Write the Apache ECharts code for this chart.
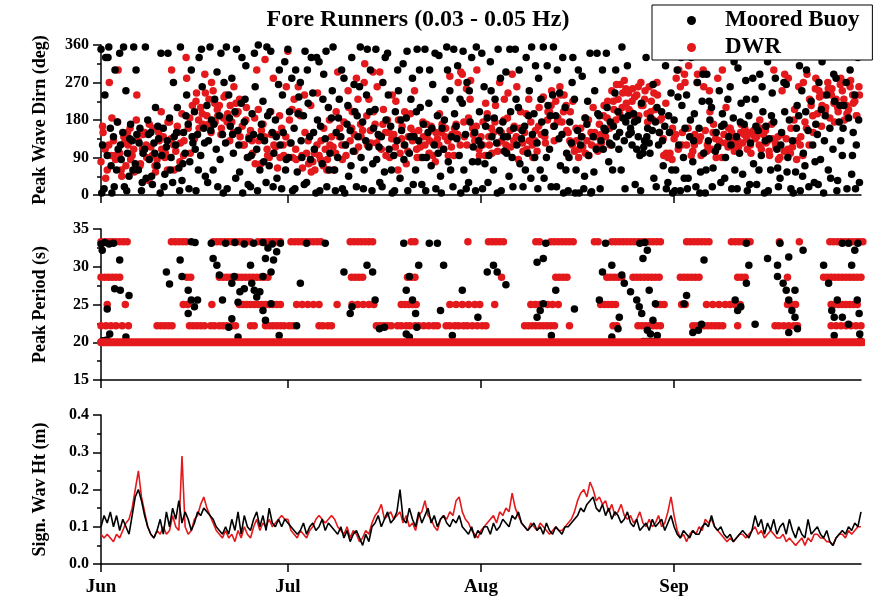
<!DOCTYPE html>
<html>
<head>
<meta charset="utf-8">
<script src="https://cdn.jsdelivr.net/npm/echarts@6/dist/echarts.min.js"></script>
<style>html,body{margin:0;padding:0;background:#fff}#c{width:884px;height:603px}</style>
</head>
<body>
<div id="c"></div>
<script>
// ---- axis / tick data ----
const monthStarts = [0, 30, 61, 92];            // days since Jun 1
const monthLabels = ['Jun', 'Jul', 'Aug', 'Sep'];
const dayMax = 122;                             // Oct 1
const titleText = 'Fore Runners (0.03 - 0.05 Hz)';

// ---- Panel 1: peak wave direction (deg) ----
const dirBuoyStep = 0.25; // days between samples
const dirBuoy = [
350,120,15,330, 95,355,160,5, 140,300,60,110, 340,85,150,20, 250,100,45,170,
130,355,75,145, 60,160,10,100, 110,40,180,85, 150,25,125,210, 70,135,5,95,
160,50,115,340, 185,90,30,140, 120,210,65,355, 35,150,100,240, 170,80,300,125,
200,10,145,330, 95,260,160,45, 215,130,355,180, 60,230,110,20, 190,340,145,270,
125,15,240,165, 280,100,200,350, 155,55,220,5, 175,310,90,135, 20,195,145,260,
110,360,60,170, 225,130,30,190, 70,345,150,100, 180,40,265,120, 15,150,320,85,
350,200,125,10, 160,300,55,235, 270,90,190,345, 30,220,140,330, 245,110,5,180,
320,165,75,290, 135,20,210,100, 185,355,60,150, 90,230,140,15, 280,120,170,45,
155,330,105,200, 20,140,260,90, 175,60,130,350, 115,300,10,160, 205,85,145,30,
140,270,55,180, 340,110,165,5, 95,200,130,250, 40,155,315,120, 185,10,100,230,
280,140,60,350, 130,210,25,170, 350,90,150,300, 70,265,120,15, 190,335,45,160,
110,230,355,80, 250,140,20,195, 165,310,95,5, 220,60,145,270, 30,175,330,115,
150,355,80,200, 120,15,260,165, 185,95,320,140, 60,230,125,350, 155,10,175,105,
295,140,45,200, 90,160,350,120, 210,75,135,20, 165,330,100,250, 40,145,195,310,
125,280,60,175, 355,150,90,215, 110,20,240,165, 190,300,135,70, 145,5,210,100,
10,175,125,330, 230,60,155,5, 120,285,15,185, 170,95,340,8, 140,250,110,195,
190,130,300,160, 155,210,80,175, 120,165,245,140, 200,150,60,185, 130,175,310,145,
160,120,195,25, 110,140,95,220, 100,130,330,160, 125,185,155,40, 175,210,120,355,
200,70,165,15, 30,150,245,5, 180,60,300,120, 10,215,90,160, 240,40,140,330,
80,195,20,270, 160,55,225,100, 5,290,130,180, 210,65,340,150, 115,250,30,195,
170,90,355,140, 260,15,185,60, 140,305,100,220, 50,170,275,10, 190,125,340,75,
230,25,155,290, 95,200,5,165, 320,135,60,245, 175,280,110,20, 40,150,350,200,
265,90,180,15, 130,335,55,215, 190,10,250,100, 70,300,155,355, 225,120,30,170,
145,270,85,320, 5,190,240,60, 160,345,110,225, 280,35,175,130, 95,215,355,15,
185,300,50,150, 240,120,330,30
];
// additional buoy samples, half-day spacing, starting 0.125 day in
const dirBuoyExtraStart = 0.125;
const dirBuoyExtraStep = 0.5;
const dirBuoyExtra = [
5,240, 330,70, 20,175, 120,355, 10,135, 60,300, 125,30, 355,145, 45,100, 165,340,
20,130, 60,270, 150,10, 75,190, 15,140, 110,60, 350,125, 30,155, 170,295, 85,5,
355,185, 145,40, 120,330, 230,25, 95,340, 10,140, 80,355, 200,20, 140,300, 240,60,
90,280, 15,195, 130,25, 300,85, 150,330, 10,230, 345,60, 250,10, 185,300, 5,215,
70,265, 190,355, 15,240, 200,75, 350,115, 20,330, 240,60, 10,300, 180,85, 345,140,
25,200, 300,90, 10,220, 160,340, 100,5, 180,300, 60,350, 135,230, 345,15, 250,80,
10,130, 340,75, 30,250, 185,5, 280,140, 100,350, 20,230, 300,155, 60,190, 355,90,
15,230, 40,310, 190,355, 20,245, 330,60, 90,270, 5,300, 140,45, 225,5, 55,340,
15,110, 340,125, 60,300, 110,355, 15,190, 150,175, 180,10, 115,140, 100,265, 20,150,
130,310, 190,60, 10,235, 330,40, 15,180, 130,350, 5,290, 60,225, 20,105, 345,165,
40,230, 120,320, 15,175, 340,230, 25,280, 165,60, 260,130, 10,190, 345,65, 120,270,
55,340, 5,160, 310,45, 200,20, 355,80, 25,205, 130,350, 40,290, 10,215, 160,270,
350,95, 15,180
];
const dirDwrStep = 1 / 3;
const dirDwr = [
80,150,110, 60,270,95, 130,85,175, 100,45,140, 70,120,160, 95,55,180, 130,75,110,
150,90,35, 115,160,70, 85,130,200, 140,100,60, 175,300,120, 105,150,80, 195,130,330,
160,100,215, 135,245,180, 210,170,290, 190,230,150, 250,175,205, 215,160,185, 240,195,130,
175,260,220, 200,140,165, 120,210,90, 155,100,185, 300,130,75, 170,325,110, 90,145,280,
115,65,190, 160,95,140, 345,125,205, 230,85,260, 190,65,240, 100,75,215, 80,60,120,
95,130,70, 110,85,180, 140,60,100, 295,160,120, 175,95,250, 130,200,145, 280,115,170,
155,315,190, 230,125,295, 170,260,140, 110,205,150, 180,90,135, 145,225,60, 100,165,120,
75,140,195, 130,250,110, 155,90,175, 120,140,100, 165,125,80, 135,195,150, 110,160,130,
285,145,95, 170,270,120, 290,140,255, 185,275,160, 130,300,110, 140,175,95, 195,120,160,
150,215,105, 270,130,180, 120,245,155, 290,165,140, 85,200,125, 150,110,230, 175,90,130,
105,210,145, 235,125,180, 200,250,165, 225,185,260, 175,240,215, 150,200,120, 105,130,90,
160,115,185, 130,95,150, 210,140,115, 170,125,190, 140,225,160, 250,205,180, 230,265,210,
275,220,245, 200,255,235, 240,190,270, 215,250,195, 260,225,180, 205,240,150, 185,95,220,
90,100,85, 135,280,110, 260,150,290, 120,310,140, 105,145,270, 130,95,300, 155,120,250,
110,170,135, 280,125,90, 145,210,115, 160,130,105, 140,115,150, 125,160,135, 150,100,145,
135,165,120, 110,145,155, 130,95,170, 300,115,140, 90,250,105, 135,280,100, 115,205,85,
260,140,95, 175,290,120, 215,150,255, 195,235,165, 240,210,270, 185,255,220, 230,200,265,
250,180,215, 205,275,240, 225,190,260
];
const dirDwrExtraStart = 0.25;
const dirDwrExtraStep = 0.5;
const dirDwrExtra = [
165,40, 120,185, 95,300, 60,125, 150,85, 110,240, 70,145, 120,170, 95,55, 150,110,
90,175, 135,60, 165,125, 95,280, 185,140, 225,160, 195,245, 170,270, 220,190, 145,235,
175,215, 150,195, 230,120, 180,140, 130,75, 205,155, 140,95, 200,120, 145,90, 120,260,
180,90, 110,200, 95,150, 130,55, 100,245, 85,160, 60,120, 115,200, 140,85, 120,210,
160,105, 230,140, 270,120, 155,200, 125,295, 170,95, 150,240, 115,180, 135,200, 105,160,
150,90, 115,140, 170,130, 95,150, 120,170, 140,95, 115,160, 145,295, 175,120, 230,145,
165,95, 120,220, 140,100, 175,125, 150,230, 185,115, 130,260, 160,105, 195,130, 120,155,
165,230, 140,200, 215,130, 175,240, 200,155, 130,225, 160,110, 140,100, 180,120, 150,105,
145,215, 185,120, 225,265, 195,245, 255,205, 225,185, 260,215, 230,175, 200,245, 270,180,
135,100, 95,160, 145,300, 120,270, 160,95, 120,290, 140,260, 105,200, 150,90, 130,300,
125,160, 150,120, 130,170, 145,110, 120,155, 140,180, 160,125, 105,135, 125,85, 145,290,
110,160, 180,130, 120,270, 160,230, 190,280, 250,215, 200,255, 240,175, 210,280, 230,195,
260,220, 190,240
];

// ---- Panel 2: peak period (s) ----
const perBuoy = [
[0,33.0],[0.6,33.2],[1.3,33.0],[2,33.1],[0.2,32.2],[3,30.9],[2.2,27.1],[3.1,26.9],[4.5,26.2],[1,24.4],[1.4,21.1],[4,20.7],
[10.5,29.3],[11,27.7],[12.7,30.9],[13,28.7],[14,26.9],[14.5,25.6],[15,24.7],[14,23.8],[15.5,25.6],[14.5,33.3],[15.1,33.2],
[17.7,33.1],[18,31.1],[18.6,30.2],[19,28.9],[19.5,25.6],[21,27.8],[21.4,28.7],[22.3,26.7],[22,25.3],[21,23.1],[20.5,22.0],[22,20.7],
[23,27.1],[24,30.2],[24.2,27.8],[24.6,26.9],[25,26.0],[25.5,26.7],[26,28.7],[26.4,31.1],[26.8,32.5],[27.3,29.3],[27.7,30.9],[28.2,32.0],[27.3,25.1],[26.4,22.9],[26,24.2],[28.6,20.9],
[20,33.1],[21.5,33.2],[23,33.0],[24.5,33.1],[26,33.2],[27.5,33.0],[28.8,33.1],
[31.4,22.2],[32,27.8],[33,33.1],[36,33.1],[39,29.3],[40,23.8],[40.3,24.7],[42.7,30.2],[43.6,29.3],[44,25.6],[44.7,21.8],[45.5,22.0],
[48.6,33.1],[49,26.9],[49.5,28.7],[50,25.6],[50.5,23.8],[50.7,22.0],[49.5,20.7],[49,21.1],[51,30.2],[52.7,33.1],[54,33.1],[54.5,24.2],[55,30.2],[56.4,20.9],[58,26.9],[60.5,23.3],
[62,29.3],[63,30.2],[63.6,29.3],[65,27.6],[70,30.6],[71,31.1],[71.4,33.1],[70,23.3],[70.5,24.2],[71,25.1],[72.3,20.9],[73,26.9],[76,24.4],
[80,25.6],[80.5,29.3],[81,33.1],[82,20.7],[83,21.8],[83.2,23.3],[82,30.2],[83.6,28.9],[84,27.8],[85,26.7],[86,25.6],[86.4,24.7],[86.8,23.8],[87,31.1],[87.7,32.2],[88,26.9],[88.6,22.9],[89,25.1],[87.7,21.6],[88.2,21.1],[89.3,20.9],[86.5,33.1],[87.3,33.2],
[93.6,25.1],[94,26.2],[95,21.3],[95.9,21.6],[96.8,30.9],[96.4,22.4],
[101.8,25.6],[102.2,24.2],[102.7,24.7],[103.6,27.8],[104,30.2],[103.6,33.1],[105,22.4],[107,31.1],[108.6,30.2],[108.6,28.7],[109.5,27.8],[110,26.9],[110.4,25.6],[110.9,24.2],[111.4,23.3],[110.4,21.3],[111.8,21.8],[109,33.1],[110.4,31.3],[111.4,26.9],[112.7,32.2],
[116,30.2],[116.8,27.8],[117.3,24.2],[117.7,23.3],[118.2,25.6],[119,23.3],[120,22.4],[120.5,30.2],[121,32.2],[121.4,25.6],[121.7,23.8],[121.8,21.1],[119,33.1],[120,33.1],[121.5,33.1],[117.7,20.9],
[0.3,20.2],[0.9,20.3],[87.1,20.1],[87.6,20.1],[88.1,20.1],[88.6,20.1],[89.1,20.1],[121.9,20.2]
];
// DWR periods are discrete bins: days at which each bin was observed
const dwrBins = [33.3, 28.6, 25.0, 22.2];
const dwrDays33 = [0,0.6,1.2,1.8,2.4,3.0,3.6,4.2, 11.3,11.9,12.5,13.1,13.7, 18,18.6,19.2,19.8,20.4,21,21.6,22.2,22.8,23.4,24,
 25.2,25.8,26.4,27,27.6,28.2,28.8, 30.5,31.1,31.7,32.3,32.9,33.5,34.1,34.7,35.3, 40,40.6,41.2,41.8,42.4,43,43.6, 49.8,50.4, 58.9,
 62.2,62.8,63.4,64,64.6, 69.8,70.4, 72.2,72.8,73.4,74,74.6,75.2,75.8, 79.2,79.8, 82,82.6,83.2,83.8,84.4,85,85.6,86.2,86.8,87.4,88,88.6,89.2,89.8,
 94,94.6,95.2,95.8,96.4,97,97.6, 101.2,101.8,102.4,103,103.6,104.2, 108.9, 112.1, 117,117.6,118.2,118.8,119.4,120,120.6,121.2,121.8,122.3];
const dwrDays29 = [0,0.6,1.2,1.8,2.4,3.0, 13.8,14.4, 19,19.6,20.2,20.8,21.4,22,22.6,23.2,23.8,24.4,25,25.6,26.2,26.8, 40.2,40.8,41.4,42,
 49.2,49.8,50.4, 64.3, 73,73.6,74.2,74.8, 81.2,81.8,82.4,83,83.6, 85.4,86,86.6,87.2,87.8,88.4,89,89.6, 93,93.6,94.2,94.8,95.4,96,
 102.2,102.8,103.4, 110.2, 116,116.6,117.2,117.8,118.4,119,119.6,120.2,120.8,121.4,122];
const dwrDays25 = [1.0, 3.9, 13.2,13.9, 17.8, 22.2,22.8,23.4,24,24.6,25.2,25.8,26.4,27,27.6,28.2,28.8, 31.4,32.3,33.2,34.1,35, 37.9,
 40.3,41.2,42.1,43,43.8, 48.2,48.8,49.4,50,50.6, 56,57,58,59,60,60.8, 63.2, 69,69.7,70.4,71.7,72.5,73.4, 80.2,80.8,81.4,82,82.6,
 89.2,89.8,90.4, 93.2,93.8, 97.2,98.2,99.2,100.2,101,101.8,102.6, 110.2,110.8,111.5, 117.2,117.8,118.4,119,119.6,120.2,120.8,121.4];
const dwrDays22 = [0,0.8,1.6,2.4,3.4,4.4, 9,9.6,10.2,10.8,11.4, 14.2,14.8,15.4,16,16.6,17.6,18.2,19,19.6,20.2,21,21.6, 24,24.6,
 26.4,27,27.6,28.2,28.8,29.4,30.2,30.8, 35,35.6,36.4,37, 44.2,44.8,45.4,46,46.6,47.6,48.2,49,49.6,50.4,51,51.8,52.6,53.4,54,
 55.4,56,56.8,57.4,58.2,58.8,59.6,60.4,61.2,61.8, 68,68.6,69.2,69.8,70.4,71,71.6,72.2,72.8, 75.2, 82.2,82.8,
 86.2,86.8,87.4,88,88.6,89.2,89.8, 95,95.6,96.2,96.8,97.4,98,98.6,99.2,99.8, 102.2, 108.2,108.8,109.6,110.4,111.2,111.8,
 117.2,118,118.8,119.6,120.4,121.2,122];
// DWR at the 20 s bin: continuous through the whole record
const dwr20 = [[0, 20], [122.3, 20]];

// ---- Panel 3: significant wave height (m), half-day samples ----
const hsStep = 0.5;
const hsBuoy = [
0.10,0.13, 0.11,0.14, 0.10,0.13, 0.09,0.12, 0.10,0.08, 0.13,0.18, 0.20,0.17, 0.13,0.10, 0.08,0.07, 0.09,0.12,
0.08,0.14, 0.10,0.15, 0.12,0.17, 0.11,0.14, 0.12,0.09, 0.11,0.14, 0.13,0.15, 0.14,0.13, 0.12,0.10, 0.09,0.08,
0.10,0.08, 0.12,0.09, 0.14,0.08, 0.13,0.10, 0.09,0.12, 0.14,0.10, 0.13,0.09, 0.15,0.11, 0.10,0.12, 0.10,0.12,
0.11,0.10, 0.09,0.08, 0.09,0.11, 0.08,0.10, 0.11,0.09, 0.10,0.12, 0.09,0.11, 0.10,0.09, 0.08,0.10, 0.07,0.09,
0.06,0.08, 0.09,0.07, 0.05,0.08, 0.06,0.10, 0.11,0.13, 0.10,0.12, 0.14,0.11, 0.12,0.14, 0.20,0.12, 0.11,0.15,
0.12,0.10, 0.14,0.11, 0.13,0.15, 0.11,0.13, 0.10,0.12, 0.13,0.11, 0.10,0.12, 0.11,0.13, 0.10,0.09, 0.08,0.10,
0.07,0.09, 0.08,0.10, 0.10,0.08, 0.11,0.09, 0.10,0.12, 0.11,0.10, 0.13,0.12, 0.14,0.11, 0.10,0.09, 0.10,0.11,
0.09,0.10, 0.08,0.11, 0.09,0.08, 0.10,0.09, 0.08,0.10, 0.10,0.11, 0.12,0.13, 0.15,0.14, 0.16,0.17, 0.18,0.15,
0.14,0.16, 0.13,0.15, 0.12,0.14, 0.13,0.11, 0.12,0.14, 0.11,0.10, 0.12,0.09, 0.10,0.11, 0.09,0.12, 0.10,0.11,
0.12,0.09, 0.11,0.13, 0.10,0.08, 0.07,0.09, 0.08,0.07, 0.09,0.08, 0.08,0.10, 0.11,0.10, 0.13,0.10, 0.09,0.10,
0.08,0.07, 0.08,0.06, 0.07,0.08, 0.09,0.08, 0.07,0.09, 0.13,0.10, 0.12,0.08, 0.11,0.09, 0.12,0.08, 0.10,0.11,
0.08,0.12, 0.09,0.07, 0.10,0.08, 0.07,0.12, 0.08,0.09, 0.10,0.08, 0.07,0.09, 0.06,0.05, 0.07,0.08, 0.09,0.08,
0.10,0.09, 0.11,0.10, 0.14
];
const hsDwr = [
0.08,0.07, 0.08,0.07, 0.06,0.08, 0.07,0.09, 0.11,0.12, 0.15,0.20, 0.25,0.18, 0.14,0.10, 0.08,0.07, 0.09,0.08,
0.10,0.08, 0.09,0.13, 0.10,0.09, 0.29,0.10, 0.08,0.09, 0.12,0.13, 0.16,0.18, 0.15,0.13, 0.11,0.09, 0.08,0.07,
0.09,0.07, 0.08,0.06, 0.09,0.07, 0.10,0.08, 0.07,0.10, 0.12,0.09, 0.11,0.10, 0.12,0.10, 0.11,0.12, 0.13,0.12,
0.12,0.09, 0.08,0.07, 0.09,0.08, 0.07,0.09, 0.10,0.12, 0.13,0.12, 0.11,0.12, 0.13,0.12, 0.10,0.09, 0.08,0.10,
0.07,0.09, 0.08,0.06, 0.07,0.09, 0.08,0.11, 0.13,0.14, 0.16,0.12, 0.13,0.14, 0.12,0.13, 0.14,0.11, 0.13,0.10,
0.11,0.09, 0.13,0.14, 0.17,0.13, 0.12,0.10, 0.09,0.12, 0.13,0.12, 0.14,0.13, 0.17,0.18, 0.14,0.12, 0.11,0.09,
0.08,0.07, 0.09,0.10, 0.11,0.12, 0.13,0.11, 0.14,0.13, 0.15,0.14, 0.19,0.15, 0.13,0.11, 0.10,0.09, 0.11,0.10,
0.09,0.11, 0.10,0.09, 0.08,0.09, 0.10,0.09, 0.09,0.10, 0.11,0.12, 0.14,0.17, 0.19,0.20, 0.18,0.22, 0.20,0.17,
0.18,0.16, 0.17,0.14, 0.16,0.13, 0.14,0.16, 0.13,0.12, 0.13,0.11, 0.12,0.14, 0.11,0.10, 0.12,0.10, 0.11,0.13,
0.10,0.11, 0.14,0.18, 0.13,0.09, 0.07,0.08, 0.06,0.08, 0.09,0.08, 0.10,0.09, 0.12,0.11, 0.12,0.10, 0.09,0.08,
0.07,0.06, 0.07,0.06, 0.07,0.08, 0.08,0.07, 0.08,0.09, 0.10,0.08, 0.09,0.07, 0.08,0.09, 0.08,0.07, 0.07,0.08,
0.06,0.07, 0.06,0.05, 0.06,0.07, 0.05,0.07, 0.06,0.08, 0.08,0.07, 0.07,0.06, 0.06,0.05, 0.07,0.08, 0.08,0.07,
0.09,0.08, 0.09,0.10, 0.10
];

// ---- styling ----
const RED = '#e3191c';
const BLK = '#000000';
const FONT = "'Liberation Serif', 'Times New Roman', serif";
const stepSeries = (arr, step, start) => arr.map((v, i) => [(start || 0) + i * step, v]);
const binSeries = (days, bin) => days.map(d => [d, bin]);

const tickText = { fontFamily: FONT, fontWeight: 'bold', fontSize: 16, color: '#000' };
function xAxisFor(gi, showLabels) {
  return {
    type: 'value', gridIndex: gi, min: 0, max: dayMax,
    axisLine: { show: true, onZero: false, lineStyle: { color: '#000', width: 1.5 } },
    axisTick: { show: true, inside: false, length: 8, customValues: monthStarts, lineStyle: { color: '#000', width: 1.5 } },
    axisLabel: {
      show: showLabels, customValues: monthStarts, margin: 14,
      fontFamily: FONT, fontWeight: 'bold', fontSize: 19, color: '#000',
      formatter: v => { const k = monthStarts.indexOf(v); return k >= 0 ? monthLabels[k] : ''; }
    },
    splitLine: { show: false }
  };
}
function yAxisFor(gi, min, max, interval, name, fmt) {
  return {
    type: 'value', gridIndex: gi, min, max, interval,
    name, nameLocation: 'middle', nameGap: 52, nameRotate: 90,
    nameTextStyle: { fontFamily: FONT, fontWeight: 'bold', fontSize: 18, color: '#000' },
    axisLine: { show: true, lineStyle: { color: '#000', width: 1.5 } },
    axisTick: { show: true, inside: false, length: 8, lineStyle: { color: '#000', width: 1.5 } },
    minorTick: { show: true, splitNumber: 2, length: 4, lineStyle: { color: '#000', width: 1.5 } },
    axisLabel: { margin: 12, ...tickText, formatter: fmt },
    splitLine: { show: false }
  };
}

const chart = echarts.init(document.getElementById('c'), null, { renderer: 'canvas' });
const dot = 7.5;
chart.setOption({
  animation: false,
  backgroundColor: '#fff',
  title: {
    text: titleText, left: 413, top: 3, textAlign: 'center',
    textStyle: { fontFamily: FONT, fontWeight: 'bold', fontSize: 24, color: '#000' }
  },
  legend: {
    orient: 'vertical', left: 652, top: 5,
    data: [
      { name: 'Moored Buoy', icon: 'circle', itemStyle: { color: BLK } },
      { name: 'DWR', icon: 'circle', itemStyle: { color: RED } }
    ],
    itemWidth: 9, itemHeight: 9, itemGap: 4,
    padding: [4, 13, 1, 35],
    backgroundColor: '#fff', borderColor: '#000', borderWidth: 1, borderRadius: 0,
    textStyle: { fontFamily: FONT, fontWeight: 'bold', fontSize: 23, color: '#000', padding: [0, 0, 0, 24] },
    selectedMode: false, z: 20
  },
  grid: [
    { left: 101, right: 23, top: 45, height: 150 },
    { left: 101, right: 23, top: 229, height: 151 },
    { left: 101, right: 23, top: 415, height: 149 }
  ],
  xAxis: [xAxisFor(0, false), xAxisFor(1, false), xAxisFor(2, true)],
  yAxis: [
    yAxisFor(0, 0, 360, 90, 'Peak Wave Dirn (deg)', v => String(v)),
    yAxisFor(1, 15, 35, 5, 'Peak Period (s)', v => String(v)),
    yAxisFor(2, 0, 0.4, 0.1, 'Sign. Wav Ht (m)', v => v.toFixed(1))
  ],
  series: [
    { name: 'DWR', type: 'scatter', xAxisIndex: 0, yAxisIndex: 0, clip: false, symbolSize: dot,
      itemStyle: { color: RED, opacity: 1 },
      data: stepSeries(dirDwr, dirDwrStep, 0).concat(stepSeries(dirDwrExtra, dirDwrExtraStep, dirDwrExtraStart)) },
    { name: 'Moored Buoy', type: 'scatter', xAxisIndex: 0, yAxisIndex: 0, clip: false, symbolSize: dot,
      itemStyle: { color: BLK, opacity: 1 },
      data: stepSeries(dirBuoy, dirBuoyStep, 0).concat(stepSeries(dirBuoyExtra, dirBuoyExtraStep, dirBuoyExtraStart)) },

    { name: 'DWR', type: 'line', xAxisIndex: 1, yAxisIndex: 1, showSymbol: false, symbol: 'none',
      lineStyle: { color: RED, width: 8, cap: 'round' }, data: dwr20 },
    { name: 'DWR', type: 'scatter', xAxisIndex: 1, yAxisIndex: 1, clip: false, symbolSize: dot,
      itemStyle: { color: RED, opacity: 1 },
      data: [].concat(binSeries(dwrDays33, dwrBins[0]), binSeries(dwrDays29, dwrBins[1]),
                      binSeries(dwrDays25, dwrBins[2]), binSeries(dwrDays22, dwrBins[3])) },
    { name: 'Moored Buoy', type: 'scatter', xAxisIndex: 1, yAxisIndex: 1, clip: false, symbolSize: dot,
      itemStyle: { color: BLK, opacity: 1 }, data: perBuoy },

    { name: 'DWR', type: 'line', xAxisIndex: 2, yAxisIndex: 2, showSymbol: false, symbol: 'none',
      lineStyle: { color: RED, width: 1.6 }, data: stepSeries(hsDwr, hsStep, 0) },
    { name: 'Moored Buoy', type: 'line', xAxisIndex: 2, yAxisIndex: 2, showSymbol: false, symbol: 'none',
      lineStyle: { color: BLK, width: 1.6 }, data: stepSeries(hsBuoy, hsStep, 0) }
  ]
});
</script>
</body>
</html>
